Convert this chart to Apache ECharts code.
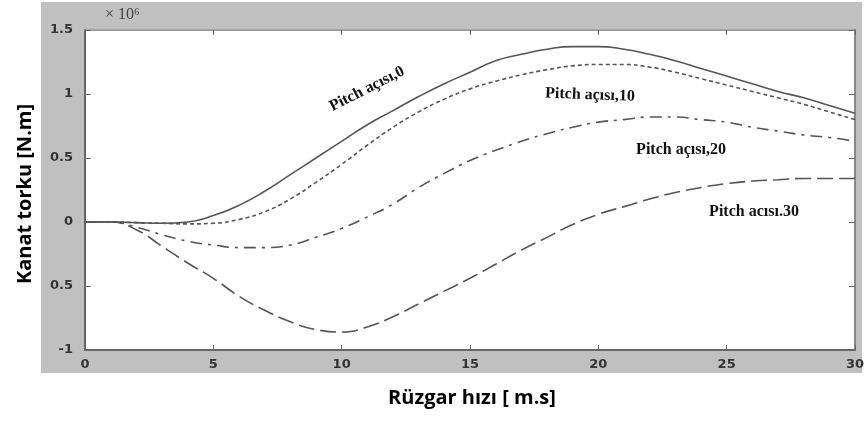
<!DOCTYPE html>
<html>
<head>
<meta charset="utf-8">
<script src="https://cdn.jsdelivr.net/npm/echarts@6/dist/echarts.min.js"></script>
<style>
html,body{margin:0;padding:0;background:#fff;}
#chart{width:867px;height:421px;}
</style>
</head>
<body>
<div id="chart"></div>
<script>
// rüzgar hızı 0..30
var windSpeed = [0,1,2,3,4,5,6,7,8,9,10,11,12,13,14,15,16,17,18,19,20,21,22,23,24,25,26,27,28,29,30];
// tork (x 10^6)
var pitch0  = [0,0,-0.005,-0.01,0,0.05,0.13,0.24,0.37,0.5,0.63,0.76,0.87,0.98,1.08,1.17,1.26,1.31,1.35,1.37,1.37,1.35,1.31,1.26,1.2,1.14,1.08,1.02,0.97,0.91,0.85];
var pitch10 = [0,0,-0.005,-0.01,-0.015,-0.01,0.02,0.08,0.18,0.31,0.45,0.6,0.74,0.86,0.96,1.04,1.1,1.15,1.19,1.22,1.23,1.23,1.21,1.17,1.12,1.07,1.02,0.97,0.92,0.86,0.8];
var pitch20 = [0,0,-0.04,-0.1,-0.15,-0.18,-0.2,-0.2,-0.18,-0.12,-0.05,0.04,0.14,0.27,0.38,0.48,0.56,0.63,0.69,0.74,0.78,0.8,0.82,0.82,0.8,0.78,0.74,0.71,0.68,0.66,0.63];
var pitch30 = [0,0,-0.06,-0.19,-0.32,-0.44,-0.58,-0.69,-0.78,-0.84,-0.86,-0.82,-0.74,-0.64,-0.54,-0.44,-0.33,-0.22,-0.12,-0.02,0.06,0.12,0.18,0.23,0.27,0.3,0.32,0.33,0.34,0.34,0.34];
var yTickLabels = ['-1','0.5','0','0.5','1','1.5']; // as printed in the figure
var curveNames = ['Pitch açısı,0','Pitch açısı,10','Pitch açısı,20','Pitch acısı.30'];

function pairs(ys){
    return windSpeed.map(function(x,i){ return [x, ys[i]]; });
}

var myChart = echarts.init(document.getElementById('chart'));
var lineColor = '#555';
var tickFont = {color:'#333', fontSize:13, fontWeight:'bold', fontFamily:'DejaVu Sans'};
var curveFont = 'bold 16px "Liberation Serif"';
var titleFont = 'bold 20px "Open Sans"';

function curveText(txt, x, y, rot){
    return {type:'text', z:100, x:x, y:y, rotation:(rot || 0)*Math.PI/180,
        style:{text:txt, font:curveFont, fill:'#111', align:'center', verticalAlign:'middle'}};
}

var option = {
    backgroundColor:'#fff',
    animation:false,
    grid:{
        left:85, right:11, top:30, bottom:71,
        show:true,
        backgroundColor:'#fff',
        borderColor:'#888',
        borderWidth:1
    },
    graphic:[
        {type:'rect', z:-10, shape:{x:41, y:2, width:821, height:371}, style:{fill:'#c0c0c0'}},
        {type:'text', z:100, x:105, y:7, style:{text:'× 10⁶', font:'16px "Liberation Serif"', fill:'#444'}},
        curveText(curveNames[0], 367, 89, 27),
        curveText(curveNames[1], 590, 95, -2),
        curveText(curveNames[2], 681, 150),
        curveText(curveNames[3], 754, 212),
        {type:'text', z:100, x:472, y:398, style:{text:'Rüzgar hızı [ m.s]', font:titleFont,
            fill:'#000', align:'center', verticalAlign:'middle'}},
        {type:'text', z:100, x:25, y:194, rotation:Math.PI/2, style:{text:'Kanat torku [N.m]', font:titleFont,
            fill:'#000', align:'center', verticalAlign:'middle'}}
    ],
    xAxis:[
        {
            type:'value', min:0, max:30, interval:5,
            axisLine:{show:true, onZero:false, lineStyle:{color:'#666', width:2}},
            axisTick:{show:true, inside:true, length:5, lineStyle:{color:'#666'}},
            axisLabel:Object.assign({margin:8}, tickFont),
            splitLine:{show:false}
        },
        {
            type:'value', min:0, max:30, interval:5, position:'top',
            axisLine:{show:true, onZero:false, lineStyle:{color:'#999', width:1}},
            axisTick:{show:true, inside:true, length:5, lineStyle:{color:'#666'}},
            axisLabel:{show:false},
            splitLine:{show:false}
        }
    ],
    yAxis:[
        {
            type:'value', min:-1, max:1.5, interval:0.5,
            axisLine:{show:true, onZero:false, lineStyle:{color:'#666', width:2}},
            axisTick:{show:true, inside:true, length:6, lineStyle:{color:'#666'}},
            axisLabel:Object.assign({margin:12, formatter:function(v){
                return yTickLabels[Math.round((v + 1) / 0.5)];
            }}, tickFont),
            splitLine:{show:false}
        },
        {
            type:'value', min:-1, max:1.5, interval:0.5, position:'right',
            axisLine:{show:true, onZero:false, lineStyle:{color:'#888', width:2}},
            axisTick:{show:true, inside:true, length:6, lineStyle:{color:'#666'}},
            axisLabel:{show:false},
            splitLine:{show:false}
        }
    ],
    series:[
        {type:'line', name:curveNames[0], data:pairs(pitch0), smooth:true, showSymbol:false,
            lineStyle:{color:lineColor, width:1.6, type:'solid'}},
        {type:'line', name:curveNames[1], data:pairs(pitch10), smooth:true, showSymbol:false,
            lineStyle:{color:lineColor, width:1.6, type:[4,3]}},
        {type:'line', name:curveNames[2], data:pairs(pitch20), smooth:true, showSymbol:false,
            lineStyle:{color:lineColor, width:1.6, type:[12,6,3,6]}},
        {type:'line', name:curveNames[3], data:pairs(pitch30), smooth:true, showSymbol:false,
            lineStyle:{color:lineColor, width:1.6, type:[16,6]}}
    ]
};

myChart.setOption(option);
</script>
</body>
</html>
